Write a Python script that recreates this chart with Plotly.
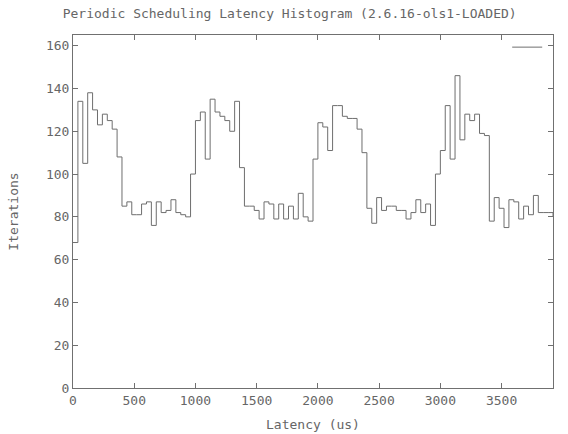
import plotly.graph_objects as go

# Bin start latencies (us)
latency = [0, 40, 80, 120, 160, 200, 240, 280, 320, 360,
           400, 440, 480, 520, 560, 600, 640, 680, 720, 760,
           800, 840, 880, 920, 960, 1000, 1040, 1080, 1120, 1160,
           1200, 1240, 1280, 1320, 1360, 1400, 1440, 1480, 1520, 1560,
           1600, 1640, 1680, 1720, 1760, 1800, 1840, 1880, 1920, 1960,
           2000, 2040, 2080, 2120, 2160, 2200, 2240, 2280, 2320, 2360,
           2400, 2440, 2480, 2520, 2560, 2600, 2640, 2680, 2720, 2760,
           2800, 2840, 2880, 2920, 2960, 3000, 3040, 3080, 3120, 3160,
           3200, 3240, 3280, 3320, 3360, 3400, 3440, 3480, 3520, 3560,
           3600, 3640, 3680, 3720, 3760, 3800, 3840, 3880, 3920]

iterations = [68, 134, 105, 138, 130, 123, 128, 125, 121, 108,
              85, 87, 81, 81, 86, 87, 76, 87, 82, 83,
              88, 82, 81, 80, 100, 125, 129, 107, 135, 129,
              127, 125, 120, 134, 103, 85, 85, 83, 79, 87,
              86, 79, 86, 79, 85, 79, 91, 80, 78, 107,
              124, 122, 111, 132, 132, 127, 126, 126, 121, 110,
              84, 77, 89, 83, 85, 85, 83, 83, 79, 82,
              88, 82, 86, 76, 100, 111, 132, 107, 146, 116,
              128, 125, 128, 119, 118, 78, 89, 84, 75, 88,
              87, 79, 85, 81, 90, 82, 82, 82, 80]

x_ticks = [0, 500, 1000, 1500, 2000, 2500, 3000, 3500]
y_ticks = [0, 20, 40, 60, 80, 100, 120, 140, 160]

title_text = "Periodic Scheduling Latency Histogram (2.6.16-ols1-LOADED)"
x_title = "Latency (us)"
y_title = "Iterations"

FONT = "DejaVu Sans Mono"
TXT = "#666666"
AX = "#707070"

fig = go.Figure()
fig.add_trace(go.Scatter(
    x=latency, y=iterations, mode="lines", line_shape="hv",
    line=dict(color="#6e6e6e", width=1), name=" ", showlegend=True,
    hoverinfo="skip"))

axis_common = dict(
    showgrid=False, zeroline=False, showline=True, linecolor=AX, linewidth=1,
    mirror="allticks", ticks="inside", ticklen=5, tickcolor=AX, tickwidth=1,
    tickfont=dict(family=FONT, size=13, color=TXT), automargin=False,
)

fig.update_layout(
    width=568, height=434,
    margin=dict(l=73, r=15, t=35, b=46, autoexpand=False),
    paper_bgcolor="white", plot_bgcolor="white",
    title=dict(text=title_text, x=0.51, xref="container", xanchor="center",
               y=0.968, yref="container", yanchor="middle",
               font=dict(family=FONT, size=13, color=TXT)),
    xaxis=dict(range=[0, 3920], tickvals=x_ticks, ticktext=[str(v) for v in x_ticks],
               title=dict(text=x_title, font=dict(family=FONT, size=13, color=TXT), standoff=13),
               **axis_common),
    yaxis=dict(range=[0, 165], tickvals=y_ticks, ticktext=[str(v) for v in y_ticks],
               title=dict(text=y_title, font=dict(family=FONT, size=13, color=TXT), standoff=24),
               **axis_common),
    legend=dict(x=1.015, y=1.008, xanchor="right", yanchor="top",
                bgcolor="rgba(0,0,0,0)", font=dict(family=FONT, size=13, color=TXT),
                itemwidth=30),
)

fig.write_html("out.html")
